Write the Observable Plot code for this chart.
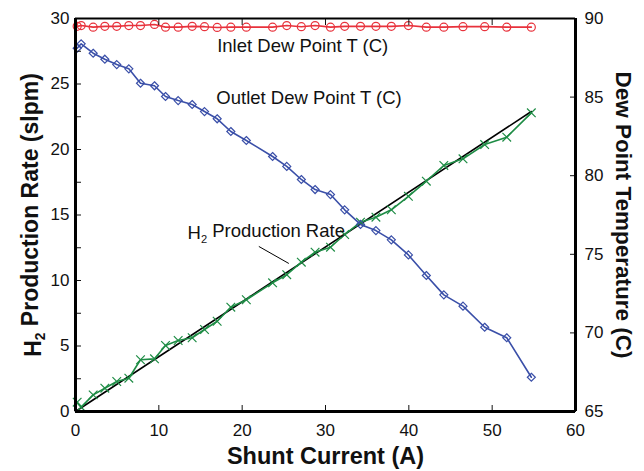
<!DOCTYPE html>
<html><head><meta charset="utf-8">
<script src="https://cdn.jsdelivr.net/npm/d3@7"></script>
<script src="https://cdn.jsdelivr.net/npm/@observablehq/plot@0.6"></script>
<style>body{margin:0;background:#fff}</style>
</head><body><div id="chart"></div>
<script>
// Shunt current (A) — shared by all three measured series
const current = [0.2,0.68,2.12,3.52,4.95,6.4,7.8,9.48,10.8,12.32,14.0,15.48,17.0,18.64,20.5,23.65,25.35,27.1,28.75,30.6,32.3,34.2,36.05,37.9,39.95,42.1,44.2,46.5,49.1,51.75,54.7];
// Inlet dew point (C), right axis
const inletDew = [89.5,89.55,89.45,89.5,89.5,89.55,89.55,89.62,89.45,89.45,89.5,89.48,89.43,89.45,89.45,89.45,89.55,89.48,89.55,89.45,89.5,89.5,89.5,89.5,89.55,89.45,89.45,89.48,89.48,89.45,89.45];
// Outlet dew point (C), right axis
const outletDew = [88.11,88.39,87.79,87.41,87.07,86.80,85.88,85.72,85.04,84.78,84.53,84.08,83.62,82.81,82.24,81.22,80.59,79.76,79.12,78.80,77.83,76.90,76.51,75.92,74.96,73.65,72.42,71.70,70.36,69.69,67.18];
// H2 production rate (slpm), left axis
const h2Rate = [0.71,0.33,1.27,1.78,2.29,2.54,3.95,4.02,5.04,5.42,5.63,6.26,6.89,7.96,8.53,9.82,10.44,11.40,12.16,12.54,13.51,14.45,14.83,15.40,16.43,17.58,18.78,19.29,20.38,20.94,22.80];
// Theoretical (fit) line
const fitCurrent = [0, 54.7];
const fitRate = [0, 22.9];
// Axes
const xTicks = [0,10,20,30,40,50,60];
const yTicks = [0,2.5,5,7.5,10,12.5,15,17.5,20,22.5,25,27.5,30];
const rightTicks = [65,70,75,80,85,90];
const leftDomain = [0, 30];
const rightDomain = [65, 90];
// Annotations
const labels = [
  {text: "Inlet Dew Point T (C)", x: 17.0, y: 27.86},
  {text: "Outlet Dew Point T (C)", x: 16.9, y: 23.9},
  {text: "H₂ Production Rate", x: 13.45, y: 13.6}
];
const leader = [{x1: 22.0, y1: 12.6, x2: 25.6, y2: 11.3}];

const k = (leftDomain[1]-leftDomain[0])/(rightDomain[1]-rightDomain[0]);
const toLeft = t => (t - rightDomain[0]) * k + leftDomain[0];

const inletData = current.map((x,i)=>({x, y: toLeft(inletDew[i])}));
const outletData = current.map((x,i)=>({x, y: toLeft(outletDew[i])}));
const h2Data = current.map((x,i)=>({x, y: h2Rate[i]}));
const fitData = fitCurrent.map((x,i)=>({x, y: fitRate[i]}));

const RED = "#e8323c", BLUE = "#3a4fa8", GREEN = "#1e8c45";

const chart = Plot.plot({
  width: 644, height: 471,
  marginLeft: 75, marginRight: 69, marginTop: 18, marginBottom: 60,
  style: {fontFamily: "'Liberation Sans', Arial, sans-serif", fontSize: "17px", color: "#111", background: "#fff"},
  x: {domain: [0,60]},
  y: {domain: leftDomain},
  marks: [
    Plot.line(fitData, {x:"x", y:"y", stroke:"#000", strokeWidth:1.6}),
    Plot.line(h2Data, {x:"x", y:"y", stroke:GREEN, strokeWidth:1.6}),
    Plot.dot(h2Data, {x:"x", y:"y", symbol:"times", r:4, stroke:GREEN, strokeWidth:1.2}),
    Plot.line(outletData, {x:"x", y:"y", stroke:BLUE, strokeWidth:1.6}),
    Plot.dot(outletData, {x:"x", y:"y", symbol:"diamond2", r:3.6, stroke:BLUE, fill:"none", strokeWidth:1.2}),
    Plot.line(inletData, {x:"x", y:"y", stroke:RED, strokeWidth:1.6}),
    Plot.dot(inletData, {x:"x", y:"y", symbol:"circle", r:4, stroke:RED, fill:"none", strokeWidth:1.2}),
    Plot.link(leader, {x1:"x1", y1:"y1", x2:"x2", y2:"y2", stroke:"#000", strokeWidth:1}),
    Plot.text(labels, {x:"x", y:"y", text:"text", textAnchor:"start", fontSize:18.5, fill:"#111"}),
    Plot.axisX({anchor:"bottom", ticks:xTicks, tickSize:-6, tickPadding:18, label:null, fontSize:17}),
    Plot.axisX({anchor:"top", ticks:xTicks, tickSize:-6, tickFormat:()=>"", label:null}),
    Plot.axisY({anchor:"left", ticks:yTicks, tickSize:-6, tickPadding:12, label:null, fontSize:17,
      tickFormat: d => d % 5 === 0 ? String(d) : ""}),
    Plot.axisY({anchor:"right", ticks:rightTicks.map(toLeft), tickSize:-6, tickPadding:15, label:null, fontSize:17,
      tickFormat: d => String(Math.round(d / k + rightDomain[0]))}),
    Plot.ruleX([0, 60], {stroke:"#000", strokeWidth:3}),
    Plot.ruleY([0], {stroke:"#000", strokeWidth:3}),
    Plot.ruleY([30], {stroke:"#000", strokeWidth:2}),
    Plot.text(["Shunt Current (A)"], {frameAnchor:"bottom", textAnchor:"middle", lineAnchor:"middle", dy:45, fontSize:23.5, fontWeight:"bold", fill:"#111"}),
    Plot.text(["H₂ Production Rate (slpm)"], {frameAnchor:"left", textAnchor:"middle", lineAnchor:"middle", dx:-42, rotate:-90, fontSize:23, fontWeight:"bold", fill:"#111"}),
    Plot.text(["Dew Point Temperature (C)"], {frameAnchor:"right", textAnchor:"middle", lineAnchor:"middle", dx:48, rotate:90, fontSize:22.5, fontWeight:"bold", fill:"#111"})
  ]
});

// Render the "₂" as a real subscript
d3.select(chart).selectAll("text").each(function() {
  const el = this;
  if (el.children.length === 0 && el.textContent.includes("₂")) {
    const [a, b] = el.textContent.split("₂");
    el.textContent = "";
    const s = d3.select(el);
    s.append("tspan").text(a);
    s.append("tspan").attr("dy", "0.3em").attr("font-size", "0.6em").text("2");
    s.append("tspan").attr("dy", "-0.3em").text(b);
  }
});

document.getElementById("chart").appendChild(chart);
</script>
</body></html>
